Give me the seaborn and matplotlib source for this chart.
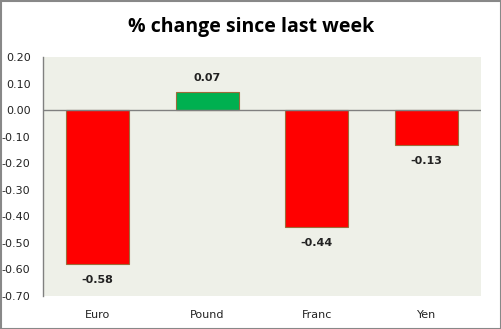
import matplotlib
matplotlib.use("Agg")
import matplotlib.pyplot as plt
import seaborn as sns
import pandas as pd
from matplotlib.patches import Rectangle

categories = ["Euro", "Pound", "Franc", "Yen"]
values = [-0.58, 0.07, -0.44, -0.13]
colors = ["#FF0000", "#00B050", "#FF0000", "#FF0000"]
yticks = [0.20, 0.10, 0.00, -0.10, -0.20, -0.30, -0.40, -0.50, -0.60, -0.70]

sns.set_style("white")
plt.rcParams['font.family'] = ['DejaVu Sans']

df = pd.DataFrame({"cur": categories, "val": values})

fig = plt.figure(figsize=(5.02, 3.29), dpi=100)
ax = fig.add_axes([0.0857, 0.1003, 0.8725, 0.7264])
ax.set_facecolor("#EEF0E8")

sns.barplot(data=df, x="cur", y="val", hue="cur", palette=colors, legend=False,
            width=0.575, ax=ax, edgecolor="#9C6B3A", linewidth=0.8, saturation=1)

ax.set_ylim(-0.70, 0.20)
ax.set_xlim(-0.5, 3.5)
ax.set_yticks(yticks)
ax.set_yticklabels([f"{v:.2f}" for v in yticks], fontsize=8, color="#222222")
ax.tick_params(axis="x", labelsize=8, length=0, pad=10, colors="#222222")
ax.tick_params(axis="y", length=0, pad=9)
ax.set_xlabel("")
ax.set_ylabel("")

ax.axhline(0, color="#808080", lw=1, zorder=3)
for s in ["top", "right", "bottom"]:
    ax.spines[s].set_visible(False)
ax.spines["left"].set_color("#808080")
ax.spines["left"].set_linewidth(1)

for i, v in enumerate(values):
    if v >= 0:
        ax.text(i, v + 0.05, f"{v:.2f}", ha="center", va="center", fontsize=8,
                fontweight="bold", color="#222222")
    else:
        ax.text(i, v - 0.06, f"{v:.2f}", ha="center", va="center", fontsize=8,
                fontweight="bold", color="#222222")

fig.text(0.5, 0.918, "% change since last week", ha="center", va="center",
         fontsize=14, fontweight="bold", color="black", family=["Open Sans", "DejaVu Sans"])

fig.patches.append(Rectangle((0.001, 0.001), 0.997, 0.997, transform=fig.transFigure,
                             fill=False, edgecolor="#888888", lw=1.5))

fig.savefig("out.png", dpi=100)
